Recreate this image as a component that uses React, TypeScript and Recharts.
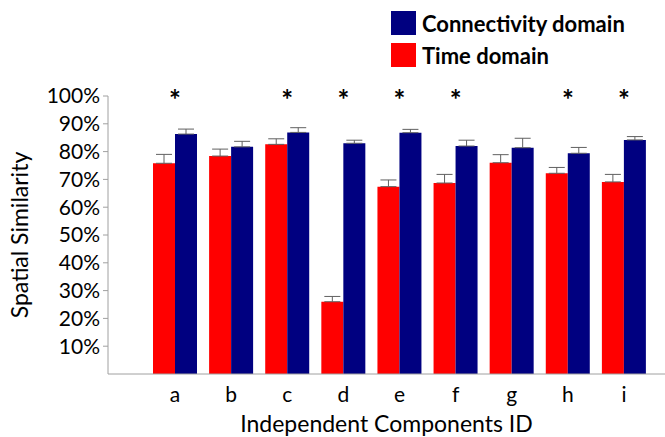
import React from 'react';
import { ComposedChart, Bar, Line, XAxis, YAxis, ErrorBar, Legend, Label } from 'recharts';

const categories = ['a', 'b', 'c', 'd', 'e', 'f', 'g', 'h', 'i'];
const timeDomain = [75.8, 78.4, 82.6, 26.0, 67.4, 68.7, 76.0, 72.2, 69.1];
const timeErr = [3.2, 2.5, 2.0, 1.9, 2.4, 3.1, 2.9, 2.1, 2.7];
const connDomain = [86.3, 81.7, 86.9, 83.0, 86.8, 82.0, 81.4, 79.4, 84.2];
const connErr = [1.8, 2.0, 1.7, 1.1, 1.2, 2.1, 3.4, 2.1, 1.2];
const significant = [true, false, true, true, true, true, false, true, true];
const yTicks = [10, 20, 30, 40, 50, 60, 70, 80, 90, 100];

const data = categories.map((c, i) => ({
  id: c,
  time: timeDomain[i],
  timeE: [0, timeErr[i]],
  conn: connDomain[i],
  connE: [0, connErr[i]],
  star: significant[i] ? 100 : null,
}));

const FONT = 'Lato, "Open Sans", sans-serif';

const StarDot = (props: any) => {
  const { cx, cy, payload } = props;
  if (payload.star == null || cy == null) return <g key={props.key} />;
  return (
    <text key={props.key} x={cx} y={cy + 14} textAnchor="middle" fontSize={28} fontWeight="bold" fontFamily={FONT} fill="#000">*</text>
  );
};

const LegendContent = () => (
  <div style={{ fontFamily: FONT, fontWeight: 'bold', fontSize: 22, color: '#000' }}>
    {[
      { label: 'Connectivity domain', color: '#000080' },
      { label: 'Time domain', color: '#ff0000' },
    ].map((it, i) => (
      <div key={i} style={{ display: 'flex', alignItems: 'center', height: 32 }}>
        <div style={{ width: 25, height: 24, background: it.color, marginRight: 6 }} />
        <span>{it.label}</span>
      </div>
    ))}
  </div>
);

const XTick = (props: any) => {
  const { x, y, payload } = props;
  return (
    <text x={x} y={y} dy={20} textAnchor="middle" fontSize={21} fontFamily={FONT} fill="#000">{payload.value}</text>
  );
};

export default function App() {
  return (
    <div style={{ position: 'fixed', left: 0, top: 0, width: 665, height: 437, background: '#fff' }}>
      <ComposedChart width={665} height={437} data={data} margin={{ top: 96, right: 0, bottom: 0, left: 0 }} barGap={0} barSize={22}>
        <XAxis dataKey="id" height={63} padding={{ left: 39, right: 13 }} axisLine={{ stroke: '#a0a0a0' }} tickLine={false} tick={<XTick />} interval={0}>
          <Label content={(p: any) => {
            const vb = p.viewBox;
            return <text x={vb.x + vb.width / 2} y={432} textAnchor="middle" fontSize={23} fontFamily={FONT} fill="#000">Independent Components ID</text>;
          }} />
        </XAxis>
        <YAxis width={108} domain={[0, 100]} ticks={yTicks} interval={0} tickFormatter={(v: number) => `${v}%`} axisLine={{ stroke: '#a0a0a0' }} tickLine={{ stroke: '#a0a0a0' }} tickSize={5} tick={{ fill: '#000', fontSize: 21, fontFamily: FONT }} tickMargin={3}>
          <Label content={(p: any) => {
            const vb = p.viewBox;
            const cy = vb.y + vb.height / 2;
            return <text x={28} y={cy} transform={`rotate(-90 28 ${cy})`} textAnchor="middle" fontSize={23} fontFamily={FONT} fill="#000">Spatial Similarity</text>;
          }} />
        </YAxis>
        <Legend layout="horizontal" verticalAlign="middle" align="center" content={<LegendContent />} wrapperStyle={{ position: 'absolute', left: 391, top: 7, width: 270 }} />
        <Bar dataKey="time" fill="#ff0000" isAnimationActive={false}>
          <ErrorBar dataKey="timeE" direction="y" width={8} stroke="#606060" strokeWidth={1} />
        </Bar>
        <Bar dataKey="conn" fill="#000080" isAnimationActive={false}>
          <ErrorBar dataKey="connE" direction="y" width={8} stroke="#606060" strokeWidth={1} />
        </Bar>
        <Line dataKey="star" stroke="none" dot={<StarDot />} activeDot={false} isAnimationActive={false} legendType="none" />
      </ComposedChart>
    </div>
  );
}
